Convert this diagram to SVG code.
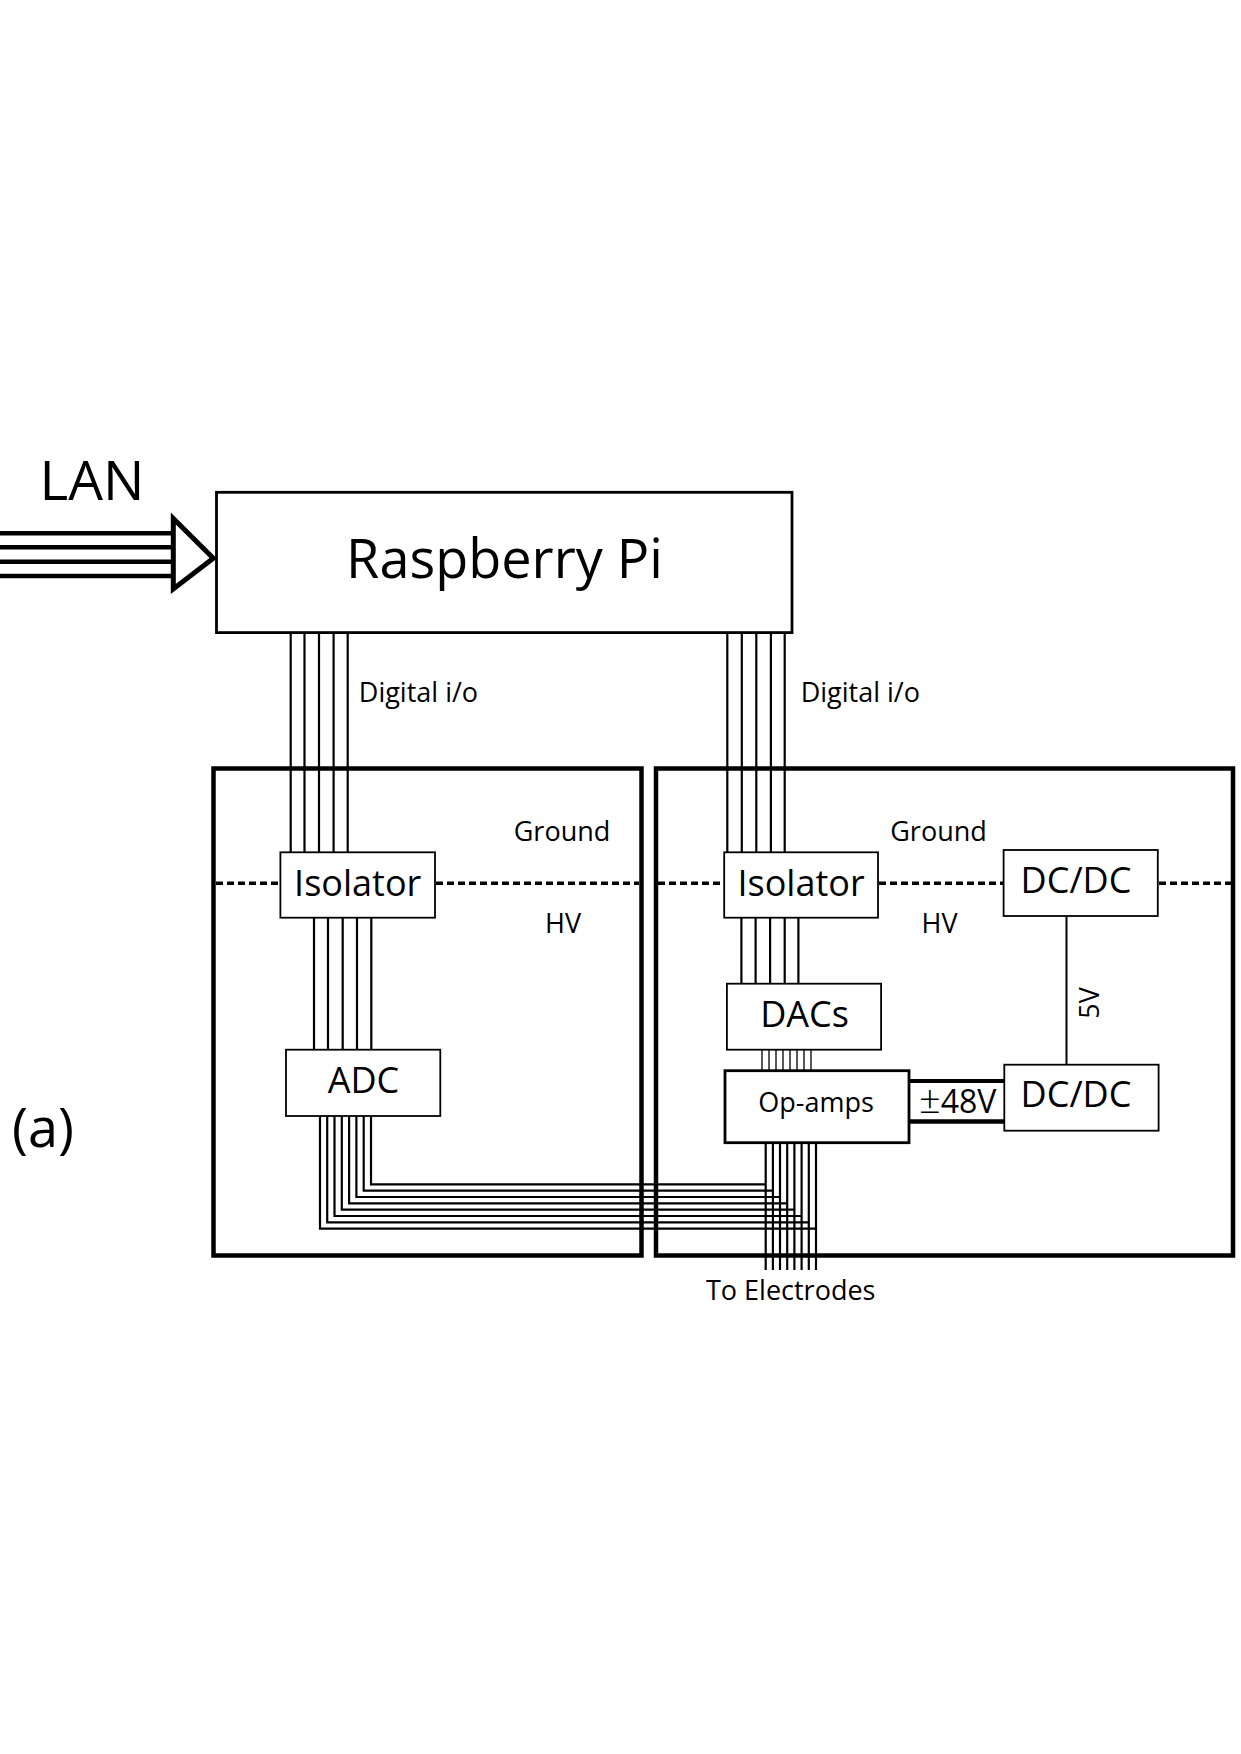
<svg xmlns="http://www.w3.org/2000/svg" width="1241" height="1754" viewBox="0 0 1241 1754">
<style>
text{font-family:"Open Sans","Noto Sans","Liberation Sans",sans-serif;fill:#000}
.mid{text-anchor:middle}
.box{fill:#fff;stroke:#000;stroke-width:1.8}
.frame{fill:none;stroke:#000;stroke-width:4.5}
.w{stroke:#000;stroke-width:2.2;fill:none}
.thin{stroke:#000;stroke-width:1.3;fill:none}
.lan{stroke:#000;stroke-width:4.5;fill:none}
.dash{stroke:#000;stroke-width:3.5;stroke-dasharray:7 4;fill:none}
</style>
<rect width="1241" height="1754" fill="#fff"/>

<g id="frames">
<rect class="frame" x="213.5" y="768.5" width="428" height="487"/>
<rect class="frame" x="656" y="768.5" width="577" height="487"/>
</g>

<g id="ground-lines">
<line class="dash" x1="216" y1="883.3" x2="280" y2="883.3"/>
<line class="dash" x1="436" y1="883.3" x2="639" y2="883.3"/>
<line class="dash" x1="658" y1="883.3" x2="724" y2="883.3"/>
<line class="dash" x1="879" y1="883.3" x2="1003" y2="883.3"/>
<line class="dash" x1="1159" y1="883.3" x2="1231" y2="883.3"/>
</g>

<g id="connectors">
<!-- LAN bus -->
<line class="lan" x1="0" y1="533.3" x2="173" y2="533.3"/>
<line class="lan" x1="0" y1="547.3" x2="173" y2="547.3"/>
<line class="lan" x1="0" y1="561.7" x2="173" y2="561.7"/>
<line class="lan" x1="0" y1="576" x2="173" y2="576"/>
<polygon points="173.3,518.5 213.3,558.3 173.3,589" fill="#fff" stroke="#000" stroke-width="5" stroke-linejoin="miter"/>
<!-- Pi to left isolator -->
<path class="w" d="M290.7 633V852M304.5 633V852M319 633V852M333.6 633V852M347.7 633V852"/>
<!-- Pi to right isolator -->
<path class="w" d="M727.3 633V852M741.8 633V852M756.3 633V852M770.9 633V852M784.7 633V852"/>
<!-- left isolator to ADC -->
<path class="w" d="M314 918V1050M328 918V1050M342.7 918V1050M357 918V1050M371.3 918V1050"/>
<!-- right isolator to DACs -->
<path class="w" d="M741.4 918V984M755.6 918V984M770.1 918V984M784.7 918V984M798.4 918V984"/>
<!-- DACs to op-amps -->
<path class="thin" d="M762 1050V1071M769 1050V1071M776 1050V1071M783 1050V1071M790 1050V1071M797 1050V1071M804 1050V1071M811 1050V1071"/>
<!-- op-amps to electrodes -->
<path class="w" d="M765.7 1143V1270M772.9 1143V1270M780 1143V1270M787.2 1143V1270M794.4 1143V1270M801.6 1143V1270M808.8 1143V1270M816 1143V1270"/>
<!-- ADC sense lines -->
<path class="w" d="M371 1116V1184.3H765.7M363.7 1116V1190.6H772.9M356.4 1116V1197H780M349.1 1116V1203.3H787.2M341.8 1116V1209.7H794.4M334.5 1116V1216H801.6M327.2 1116V1222.4H808.8M320 1116V1228.7H816"/>
<!-- +-48V -->
<line x1="909" y1="1081" x2="1005" y2="1081" stroke="#000" stroke-width="4"/>
<line x1="909" y1="1121.5" x2="1005" y2="1121.5" stroke="#000" stroke-width="4.5"/>
<!-- 5V -->
<line x1="1066.5" y1="916" x2="1066.5" y2="1065" stroke="#000" stroke-width="2"/>
</g>

<g id="lan-label"><text x="92" y="500" class="mid" font-size="55">LAN</text></g>

<g id="raspberry-pi">
<rect x="216.5" y="492.3" width="575.5" height="140.3" fill="#fff" stroke="#000" stroke-width="2.8"/>
<text x="504.5" y="578.3" class="mid" font-size="54">Raspberry Pi</text>
</g>

<g id="labels">
<text x="358.8" y="701.7" font-size="27">Digital i/o</text>
<text x="800.7" y="701.7" font-size="27">Digital i/o</text>
<text x="562" y="840.7" class="mid" font-size="27">Ground</text>
<text x="938.5" y="840.7" class="mid" font-size="27">Ground</text>
<text x="563" y="933.3" class="mid" font-size="27">HV</text>
<text x="939.6" y="933.3" class="mid" font-size="27">HV</text>
<text x="919" y="1113" font-size="32"><tspan font-size="38" font-weight="300">±</tspan>48V</text>
<text transform="translate(1099,1003) rotate(-90)" class="mid" font-size="27">5V</text>
<text x="790.7" y="1300" class="mid" font-size="27">To Electrodes</text>
<text x="43" y="1147" class="mid" font-size="54">(a)</text>
</g>

<g id="isolator-left">
<rect class="box" x="280.4" y="852.3" width="154.6" height="65.4"/>
<text x="357.7" y="896" class="mid" font-size="36">Isolator</text>
</g>

<g id="isolator-right">
<rect class="box" x="724.2" y="852.3" width="153.8" height="65.4"/>
<text x="801.1" y="896" class="mid" font-size="36">Isolator</text>
</g>

<g id="dcdc-top">
<rect class="box" x="1003.6" y="850" width="154.2" height="66"/>
<text x="1076" y="893.3" class="mid" font-size="36">DC/DC</text>
</g>

<g id="adc">
<rect class="box" x="286" y="1049.7" width="154.3" height="66.3"/>
<text x="363.5" y="1092.7" class="mid" font-size="36">ADC</text>
</g>

<g id="dacs">
<rect class="box" x="726.9" y="983.7" width="154.2" height="66"/>
<text x="804.5" y="1026.7" class="mid" font-size="36">DACs</text>
</g>

<g id="op-amps">
<rect x="725" y="1070.7" width="184" height="72" fill="#fff" stroke="#000" stroke-width="2.8"/>
<text x="816" y="1112" class="mid" font-size="27">Op-amps</text>
</g>

<g id="dcdc-bottom">
<rect class="box" x="1004.3" y="1064.7" width="154.3" height="66"/>
<text x="1076" y="1106.7" class="mid" font-size="36">DC/DC</text>
</g>
</svg>
